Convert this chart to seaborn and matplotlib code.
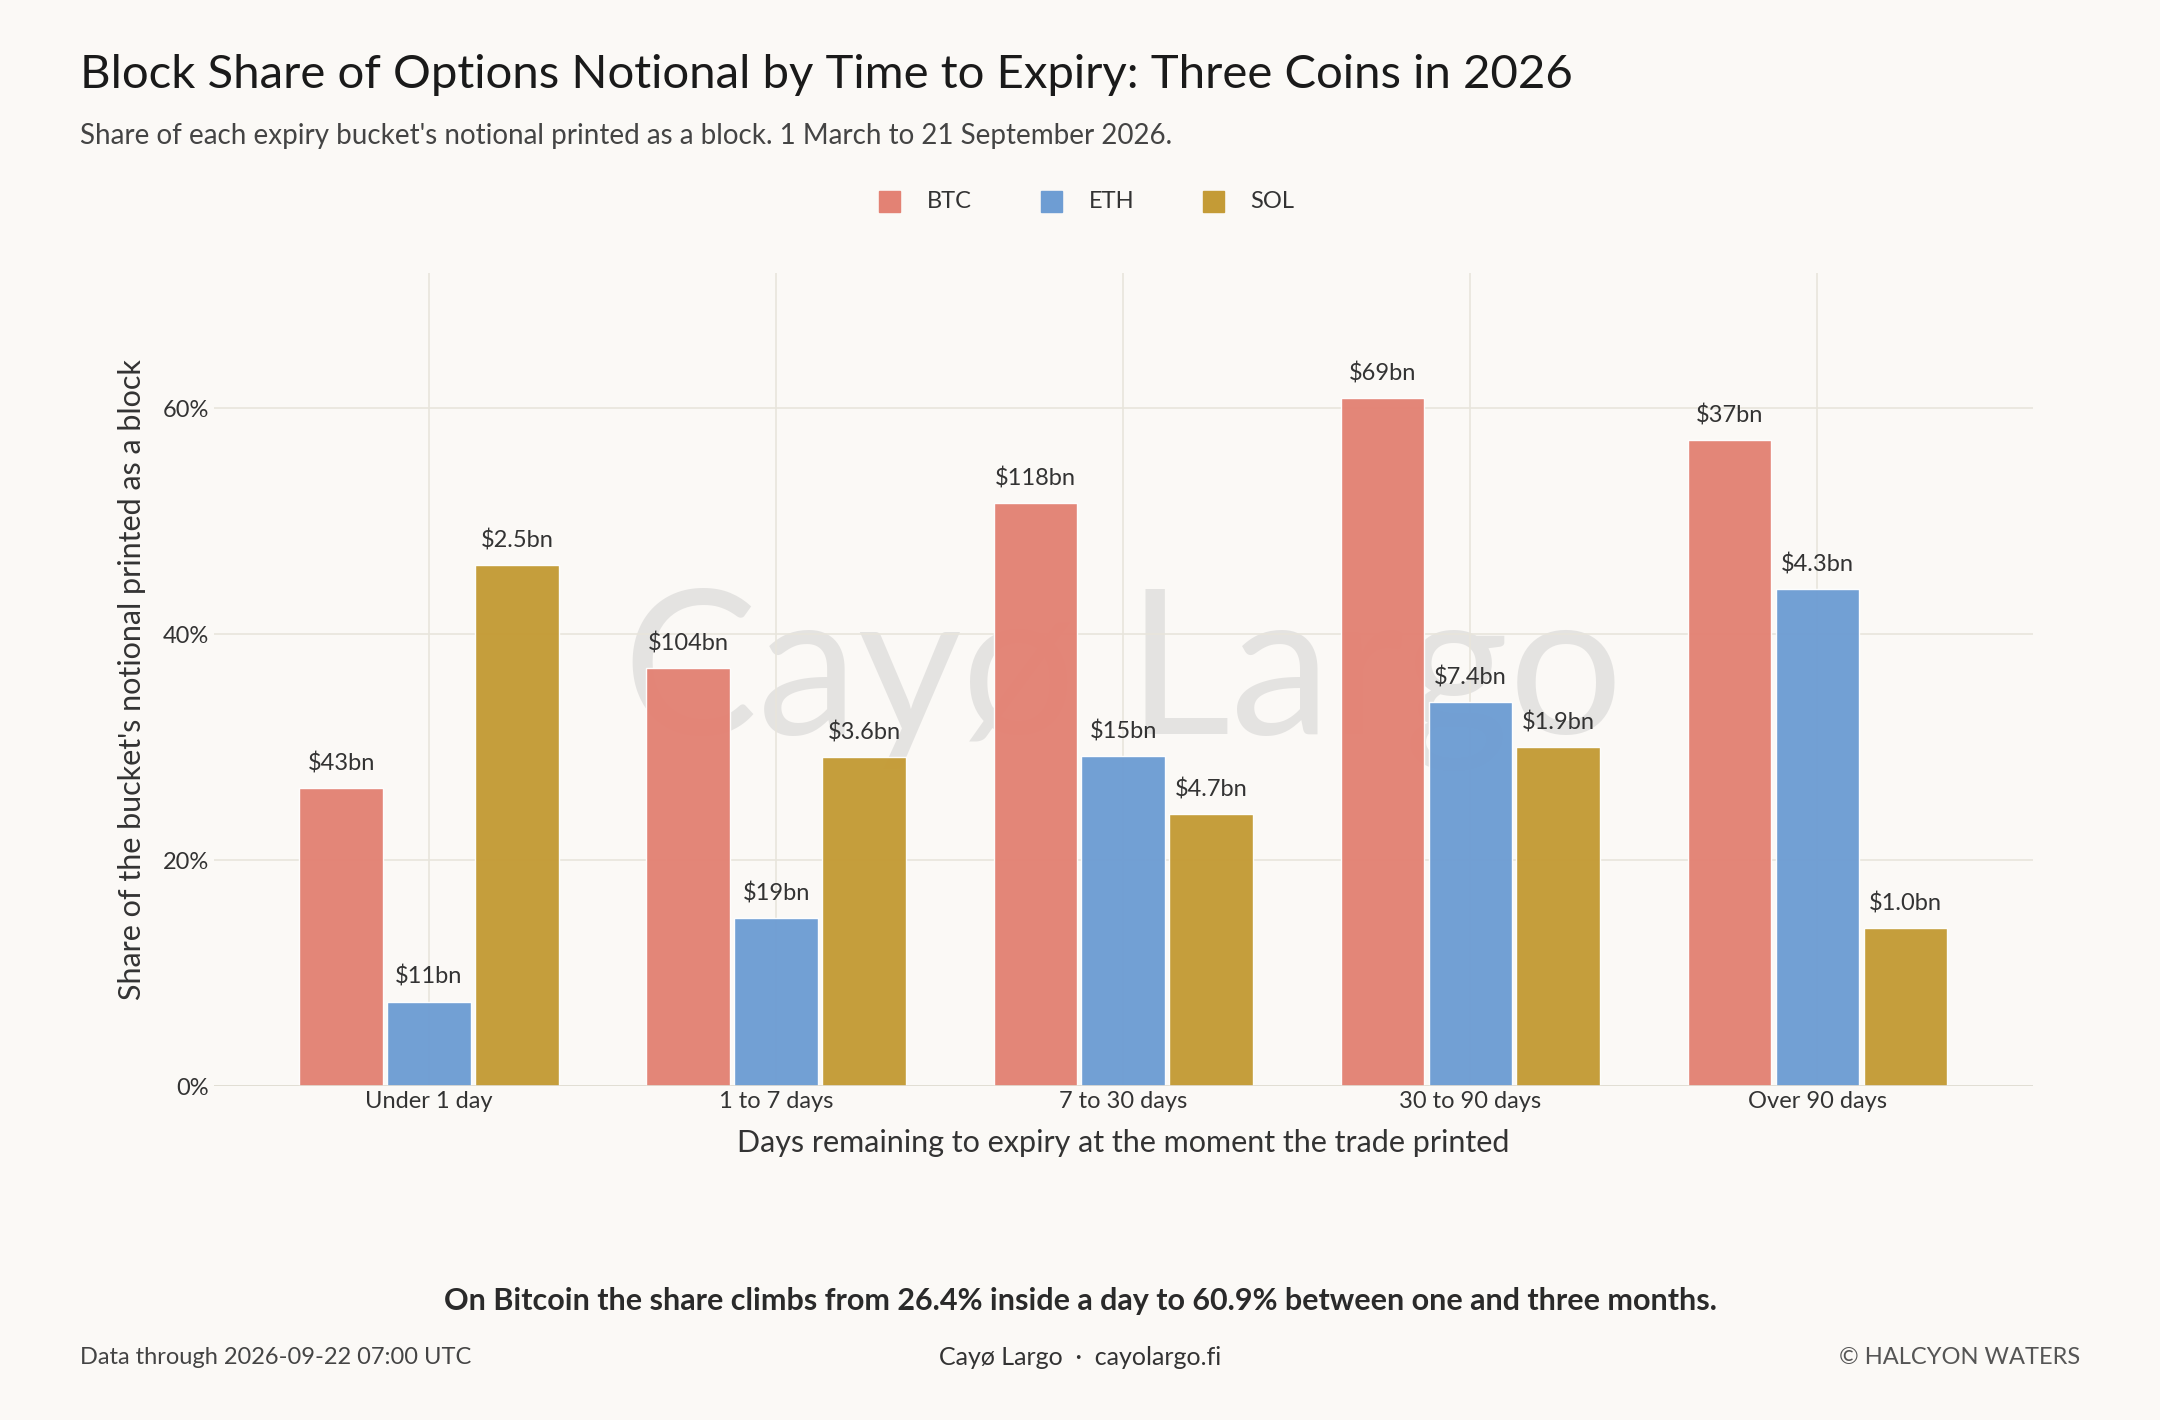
import pandas as pd
import seaborn as sns
import matplotlib.pyplot as plt

buckets = ["Under 1 day", "1 to 7 days", "7 to 30 days", "30 to 90 days", "Over 90 days"]
coins = ["BTC", "ETH", "SOL"]
btc_share = [26.4, 37.0, 51.6, 60.9, 57.2]
eth_share = [7.5, 14.9, 29.2, 34.0, 44.0]
sol_share = [46.1, 29.1, 24.1, 30.0, 14.0]
btc_notional = ["$43bn", "$104bn", "$118bn", "$69bn", "$37bn"]
eth_notional = ["$11bn", "$19bn", "$15bn", "$7.4bn", "$4.3bn"]
sol_notional = ["$2.5bn", "$3.6bn", "$4.7bn", "$1.9bn", "$1.0bn"]

rows = []
for coin, vals, labs in zip(coins, [btc_share, eth_share, sol_share],
                            [btc_notional, eth_notional, sol_notional]):
    for b, v, l in zip(buckets, vals, labs):
        rows.append({"bucket": b, "coin": coin, "share": v, "label": l})
df = pd.DataFrame(rows)

bg = "#FBF9F6"
palette = {"BTC": "#E38274", "ETH": "#6E9DD3", "SOL": "#C49B36"}

sns.set_theme(style="whitegrid")
plt.rcParams["font.family"] = ["Lato", "DejaVu Sans"]

fig = plt.figure(figsize=(21.6, 14.2), dpi=100, facecolor=bg)
ax = fig.add_axes([0.099, 0.235, 0.842, 0.573], facecolor=bg)

ax.text(0.5, 0.5, "Cayø Largo", transform=ax.transAxes, ha="center", va="center",
        fontsize=145, color="#BBBBBB", alpha=0.35, zorder=0)

sns.barplot(data=df, x="bucket", y="share", hue="coin", palette=palette,
            order=buckets, hue_order=coins, width=0.76, gap=0.05,
            saturation=1, alpha=0.97, ax=ax, legend=False)

for cont, coin in zip(ax.containers, coins):
    labs = df[df.coin == coin]["label"].tolist()
    ax.bar_label(cont, labels=labs, padding=10, fontsize=17, color="#333333")

ax.set_xlim(-0.62, 4.62)
ax.set_ylim(0, 72)
ax.set_yticks([0, 20, 40, 60])
ax.set_yticklabels(["0%", "20%", "40%", "60%"])
ax.tick_params(axis="both", labelsize=17, colors="#333333", length=0)
ax.grid(True, color="#E8E5DC", linewidth=1.2)
for s in ax.spines.values():
    s.set_visible(False)
ax.axhline(0, color="#E0DCD2", linewidth=1.2)
ax.set_xlabel("Days remaining to expiry at the moment the trade printed",
              fontsize=22, color="#333333", labelpad=12)
ax.set_ylabel("Share of the bucket's notional printed as a block",
              fontsize=22, color="#333333", labelpad=12)

# legend
for i, coin in enumerate(coins):
    x0 = 0.407 + i * 0.075
    fig.patches.append(plt.Rectangle((x0, 0.851), 0.0095, 0.0145, color=palette[coin],
                                     transform=fig.transFigure, figure=fig))
    fig.text(x0 + 0.022, 0.858, coin, fontsize=17, va="center", color="#333333")

fig.text(0.037, 0.947, "Block Share of Options Notional by Time to Expiry: Three Coins in 2026",
         fontsize=34, va="center", color="#1A1A1A")
fig.text(0.037, 0.904, "Share of each expiry bucket's notional printed as a block. 1 March to 21 September 2026.",
         fontsize=20, va="center", color="#444444")
fig.text(0.5, 0.084, "On Bitcoin the share climbs from 26.4% inside a day to 60.9% between one and three months.",
         fontsize=22, fontweight="bold", ha="center", va="center", color="#2A2A2A")
fig.text(0.037, 0.044, "Data through 2026-09-22 07:00 UTC", fontsize=17, va="center", color="#444444")
fig.text(0.5, 0.044, "Cayø Largo  ·  cayolargo.fi", fontsize=18, ha="center", va="center", color="#333333")
fig.text(0.963, 0.044, "© HALCYON WATERS", fontsize=17, ha="right", va="center", color="#555555")

fig.savefig("out.png", dpi=100, facecolor=bg)
